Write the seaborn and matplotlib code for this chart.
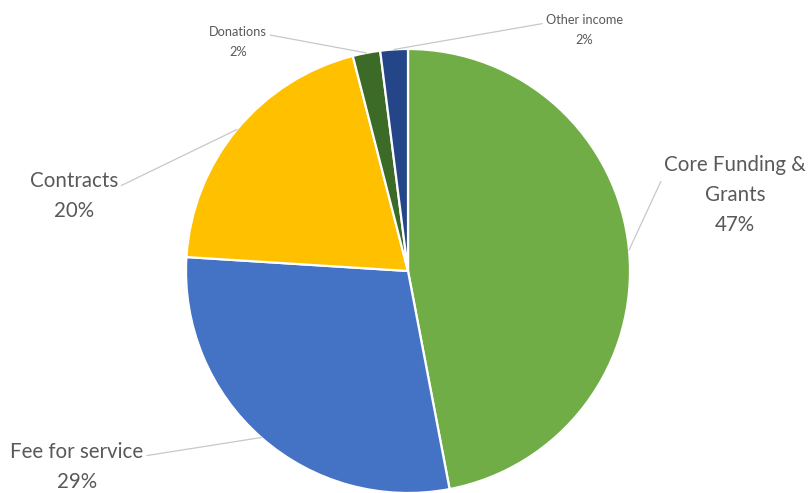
import matplotlib
matplotlib.use('Agg')
import matplotlib.pyplot as plt
import seaborn as sns
import numpy as np

sns.set_theme(style="white")
plt.rcParams['font.family'] = ['Lato', 'DejaVu Sans']

# data
categories = ['Core Funding &\nGrants', 'Fee for service', 'Contracts', 'Donations', 'Other income']
shares = [47, 29, 20, 2, 2]
colors = ['#70AD47', '#4472C4', '#FFC000', '#3B6B26', '#244689']

# label layout (pixel coords, y measured from top)
label_pos = [(735, 195), (77, 467), (74, 196), (238, 42), (584, 30)]
label_size = [14.8, 14.8, 14.8, 9.2, 9.2]
label_rel = [(0, 0.76), (1, 0.72), (1, 0.68), (1, 0.74), (0, 0.72)]

W, H = 808, 493
fig = plt.figure(figsize=(W / 100, H / 100), dpi=100)
ax = fig.add_axes([0, 0, 1, 1])

cx, cy, r = 408, H - 271, 222
wedges, _ = ax.pie(shares, colors=colors, startangle=90, counterclock=False,
                   center=(cx, cy), radius=r,
                   wedgeprops=dict(edgecolor='white', linewidth=1.6))

for w, name, val, pos, fs, rel in zip(wedges, categories, shares, label_pos, label_size, label_rel):
    ang = np.deg2rad((w.theta1 + w.theta2) / 2)
    anchor = (cx + r * np.cos(ang), cy + r * np.sin(ang))
    ax.annotate(f'{name}\n{val}%', xy=anchor, xytext=(pos[0], H - pos[1]),
                ha='center', va='center', fontsize=fs, color='#595959',
                linespacing=1.6 if fs > 10 else 1.75,
                arrowprops=dict(arrowstyle='-', color='#C8C8C8', lw=0.9,
                                shrinkA=0, shrinkB=0, relpos=rel))

ax.set_xlim(0, W)
ax.set_ylim(0, H)
ax.axis('off')

plt.savefig('out.png', dpi=100)
plt.close()
